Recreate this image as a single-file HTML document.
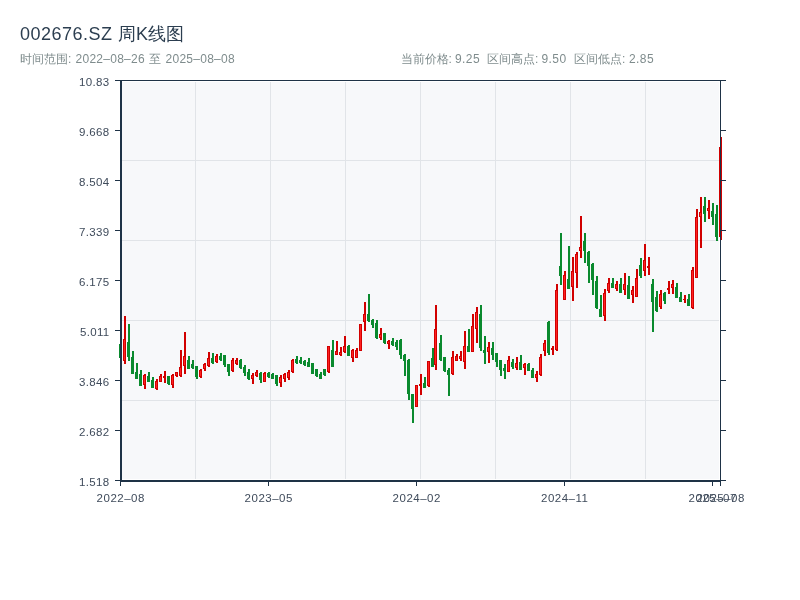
<!DOCTYPE html>
<html><head><meta charset="utf-8"><title>002676.SZ 周K线图</title>
<style>
html,body{margin:0;padding:0;background:#ffffff;}
body{width:800px;height:600px;overflow:hidden;position:relative;font-family:"Liberation Sans",sans-serif;}
svg{position:absolute;left:0;top:0;display:block;will-change:transform;}
text{font-family:"Liberation Sans",sans-serif;}
</style></head><body>
<svg width="800" height="600" viewBox="0 0 800 600">
<g font-size="18" fill="#2c3e50">
<text x="20" y="40" letter-spacing="0.49">002676.SZ</text>
<text x="118" y="40" letter-spacing="0">周K线图</text>
</g>
<g font-size="12" fill="#7f8c8d">
<text x="20" y="63" letter-spacing="0">时间范围:</text>
<text x="75.5" y="63" letter-spacing="0.27">2022–08–26</text>
<text x="149" y="63" letter-spacing="0">至</text>
<text x="165.5" y="63" letter-spacing="0.27">2025–08–08</text>
<text x="400.5" y="63" letter-spacing="0">当前价格:</text>
<text x="455" y="63" letter-spacing="0.4">9.25</text>
<text x="487" y="63" letter-spacing="0">区间高点:</text>
<text x="541.5" y="63" letter-spacing="0.4">9.50</text>
<text x="574" y="63" letter-spacing="0">区间低点:</text>
<text x="629" y="63" letter-spacing="0.4">2.85</text>
</g>
<rect x="122" y="82" width="597" height="397" fill="#f7f8fa"/>
<g stroke="#e1e4e8" stroke-width="1">
<line x1="195.5" y1="82" x2="195.5" y2="479"/>
<line x1="270.5" y1="82" x2="270.5" y2="479"/>
<line x1="345.5" y1="82" x2="345.5" y2="479"/>
<line x1="420.5" y1="82" x2="420.5" y2="479"/>
<line x1="495.5" y1="82" x2="495.5" y2="479"/>
<line x1="570.5" y1="82" x2="570.5" y2="479"/>
<line x1="645.5" y1="82" x2="645.5" y2="479"/>
<line x1="122" y1="160.5" x2="719" y2="160.5"/>
<line x1="122" y1="240.5" x2="719" y2="240.5"/>
<line x1="122" y1="320.5" x2="719" y2="320.5"/>
<line x1="122" y1="400.5" x2="719" y2="400.5"/>
</g>
<g shape-rendering="crispEdges">
<rect x="120.0" y="344.0" width="2" height="14.00" fill="#0a8a2e"/>
<rect x="119.0" y="344.0" width="3" height="13.50" fill="#0a8a2e"/>
<rect x="124.0" y="315.8" width="2" height="48.00" fill="#d10000"/>
<rect x="123.0" y="339.2" width="3" height="21.30" fill="#d10000"/>
<rect x="124.0" y="340.2" width="1" height="19.30" fill="#ff2121"/>
<rect x="128.0" y="323.75" width="2" height="37.05" fill="#0a8a2e"/>
<rect x="127.0" y="341.75" width="3" height="15.00" fill="#0a8a2e"/>
<rect x="132.0" y="350.75" width="2" height="23.25" fill="#0a8a2e"/>
<rect x="131.0" y="356.75" width="3" height="17.25" fill="#0a8a2e"/>
<rect x="136.0" y="362.75" width="2" height="16.05" fill="#0a8a2e"/>
<rect x="135.0" y="371.75" width="3" height="6.75" fill="#0a8a2e"/>
<rect x="140.0" y="369.8" width="2" height="15.90" fill="#0a8a2e"/>
<rect x="139.0" y="374.0" width="3" height="11.70" fill="#0a8a2e"/>
<rect x="144.0" y="373.7" width="2" height="15.30" fill="#d10000"/>
<rect x="143.0" y="374.75" width="3" height="9.75" fill="#d10000"/>
<rect x="144.0" y="375.75" width="1" height="7.75" fill="#ff2121"/>
<rect x="148.0" y="371.75" width="2" height="9.75" fill="#0a8a2e"/>
<rect x="147.0" y="376.0" width="3" height="5.50" fill="#0a8a2e"/>
<rect x="152.0" y="377.0" width="2" height="11.25" fill="#0a8a2e"/>
<rect x="151.0" y="380.0" width="3" height="8.25" fill="#0a8a2e"/>
<rect x="156.0" y="378.8" width="2" height="10.95" fill="#d10000"/>
<rect x="155.0" y="380.75" width="3" height="8.25" fill="#d10000"/>
<rect x="156.0" y="381.75" width="1" height="6.25" fill="#ff2121"/>
<rect x="160.0" y="374.0" width="2" height="7.50" fill="#d10000"/>
<rect x="159.0" y="375.5" width="3" height="6.00" fill="#d10000"/>
<rect x="160.0" y="376.5" width="1" height="4.00" fill="#ff2121"/>
<rect x="164.0" y="370.7" width="2" height="12.00" fill="#d10000"/>
<rect x="163.0" y="375.5" width="3" height="2.25" fill="#d10000"/>
<rect x="164.0" y="376.5" width="1" height="0.25" fill="#ff2121"/>
<rect x="168.0" y="375.8" width="2" height="8.70" fill="#0a8a2e"/>
<rect x="167.0" y="376.25" width="3" height="7.50" fill="#0a8a2e"/>
<rect x="172.0" y="373.7" width="2" height="14.10" fill="#d10000"/>
<rect x="171.0" y="374.75" width="3" height="9.75" fill="#d10000"/>
<rect x="172.0" y="375.75" width="1" height="7.75" fill="#ff2121"/>
<rect x="176.0" y="371.75" width="2" height="5.00" fill="#d10000"/>
<rect x="175.0" y="372.25" width="3" height="3.75" fill="#d10000"/>
<rect x="176.0" y="373.25" width="1" height="1.75" fill="#ff2121"/>
<rect x="180.0" y="349.75" width="2" height="27.00" fill="#d10000"/>
<rect x="179.0" y="367.0" width="3" height="9.00" fill="#d10000"/>
<rect x="180.0" y="368.0" width="1" height="7.00" fill="#ff2121"/>
<rect x="184.0" y="332.2" width="2" height="41.55" fill="#d10000"/>
<rect x="183.0" y="355.75" width="3" height="10.50" fill="#d10000"/>
<rect x="184.0" y="356.75" width="1" height="8.50" fill="#ff2121"/>
<rect x="188.0" y="355.75" width="2" height="12.75" fill="#0a8a2e"/>
<rect x="187.0" y="360.25" width="3" height="8.25" fill="#0a8a2e"/>
<rect x="192.0" y="360.0" width="2" height="8.50" fill="#0a8a2e"/>
<rect x="191.0" y="364.0" width="3" height="4.20" fill="#0a8a2e"/>
<rect x="196.0" y="365.8" width="2" height="12.90" fill="#0a8a2e"/>
<rect x="195.0" y="366.25" width="3" height="10.50" fill="#0a8a2e"/>
<rect x="200.0" y="369.0" width="2" height="8.80" fill="#d10000"/>
<rect x="199.0" y="370.0" width="3" height="6.75" fill="#d10000"/>
<rect x="200.0" y="371.0" width="1" height="4.75" fill="#ff2121"/>
<rect x="204.0" y="362.8" width="2" height="7.95" fill="#d10000"/>
<rect x="203.0" y="363.7" width="3" height="4.80" fill="#d10000"/>
<rect x="204.0" y="364.7" width="1" height="2.80" fill="#ff2121"/>
<rect x="208.0" y="352.0" width="2" height="14.70" fill="#d10000"/>
<rect x="207.0" y="358.0" width="3" height="8.25" fill="#d10000"/>
<rect x="208.0" y="359.0" width="1" height="6.25" fill="#ff2121"/>
<rect x="212.0" y="352.75" width="2" height="10.95" fill="#0a8a2e"/>
<rect x="211.0" y="358.0" width="3" height="5.25" fill="#0a8a2e"/>
<rect x="216.0" y="353.8" width="2" height="9.00" fill="#d10000"/>
<rect x="215.0" y="355.75" width="3" height="6.00" fill="#d10000"/>
<rect x="216.0" y="356.75" width="1" height="4.00" fill="#ff2121"/>
<rect x="220.0" y="352.75" width="2" height="7.95" fill="#0a8a2e"/>
<rect x="219.0" y="355.75" width="3" height="3.75" fill="#0a8a2e"/>
<rect x="224.0" y="354.7" width="2" height="12.30" fill="#0a8a2e"/>
<rect x="223.0" y="355.0" width="3" height="10.20" fill="#0a8a2e"/>
<rect x="228.0" y="364.0" width="2" height="12.00" fill="#0a8a2e"/>
<rect x="227.0" y="364.3" width="3" height="7.50" fill="#0a8a2e"/>
<rect x="232.0" y="357.7" width="2" height="14.10" fill="#d10000"/>
<rect x="231.0" y="359.5" width="3" height="11.50" fill="#d10000"/>
<rect x="232.0" y="360.5" width="1" height="9.50" fill="#ff2121"/>
<rect x="236.0" y="357.8" width="2" height="7.20" fill="#d10000"/>
<rect x="235.0" y="359.75" width="3" height="4.50" fill="#d10000"/>
<rect x="236.0" y="360.75" width="1" height="2.50" fill="#ff2121"/>
<rect x="240.0" y="359.0" width="2" height="9.75" fill="#0a8a2e"/>
<rect x="239.0" y="359.75" width="3" height="8.25" fill="#0a8a2e"/>
<rect x="244.0" y="364.7" width="2" height="11.10" fill="#0a8a2e"/>
<rect x="243.0" y="366.5" width="3" height="6.75" fill="#0a8a2e"/>
<rect x="248.0" y="368.75" width="2" height="10.95" fill="#0a8a2e"/>
<rect x="247.0" y="371.75" width="3" height="7.50" fill="#0a8a2e"/>
<rect x="252.0" y="372.5" width="2" height="11.25" fill="#d10000"/>
<rect x="251.0" y="374.75" width="3" height="4.50" fill="#d10000"/>
<rect x="252.0" y="375.75" width="1" height="2.50" fill="#ff2121"/>
<rect x="256.0" y="370.0" width="2" height="7.00" fill="#d10000"/>
<rect x="255.0" y="371.75" width="3" height="4.50" fill="#d10000"/>
<rect x="256.0" y="372.75" width="1" height="2.50" fill="#ff2121"/>
<rect x="260.0" y="371.75" width="2" height="10.95" fill="#0a8a2e"/>
<rect x="259.0" y="372.5" width="3" height="7.50" fill="#0a8a2e"/>
<rect x="264.0" y="371.75" width="2" height="9.75" fill="#d10000"/>
<rect x="263.0" y="372.5" width="3" height="9.00" fill="#d10000"/>
<rect x="264.0" y="373.5" width="1" height="7.00" fill="#ff2121"/>
<rect x="268.0" y="371.75" width="2" height="6.00" fill="#0a8a2e"/>
<rect x="267.0" y="372.5" width="3" height="4.50" fill="#0a8a2e"/>
<rect x="272.0" y="372.8" width="2" height="6.45" fill="#0a8a2e"/>
<rect x="271.0" y="374.0" width="3" height="5.25" fill="#0a8a2e"/>
<rect x="276.0" y="374.75" width="2" height="11.25" fill="#0a8a2e"/>
<rect x="275.0" y="375.2" width="3" height="8.55" fill="#0a8a2e"/>
<rect x="280.0" y="374.75" width="2" height="12.00" fill="#d10000"/>
<rect x="279.0" y="377.0" width="3" height="6.00" fill="#d10000"/>
<rect x="280.0" y="378.0" width="1" height="4.00" fill="#ff2121"/>
<rect x="284.0" y="372.8" width="2" height="8.70" fill="#d10000"/>
<rect x="283.0" y="373.7" width="3" height="5.55" fill="#d10000"/>
<rect x="284.0" y="374.7" width="1" height="3.55" fill="#ff2121"/>
<rect x="288.0" y="369.8" width="2" height="10.20" fill="#d10000"/>
<rect x="287.0" y="371.75" width="3" height="6.00" fill="#d10000"/>
<rect x="288.0" y="372.75" width="1" height="4.00" fill="#ff2121"/>
<rect x="292.0" y="358.75" width="2" height="14.25" fill="#d10000"/>
<rect x="291.0" y="359.5" width="3" height="12.75" fill="#d10000"/>
<rect x="292.0" y="360.5" width="1" height="10.75" fill="#ff2121"/>
<rect x="296.0" y="356.0" width="2" height="7.70" fill="#0a8a2e"/>
<rect x="295.0" y="358.75" width="3" height="3.75" fill="#0a8a2e"/>
<rect x="300.0" y="357.0" width="2" height="7.30" fill="#0a8a2e"/>
<rect x="299.0" y="359.5" width="3" height="3.75" fill="#0a8a2e"/>
<rect x="304.0" y="360.0" width="2" height="5.80" fill="#0a8a2e"/>
<rect x="303.0" y="361.0" width="3" height="3.75" fill="#0a8a2e"/>
<rect x="308.0" y="358.0" width="2" height="9.00" fill="#0a8a2e"/>
<rect x="307.0" y="361.75" width="3" height="4.95" fill="#0a8a2e"/>
<rect x="312.0" y="362.8" width="2" height="10.95" fill="#0a8a2e"/>
<rect x="311.0" y="363.25" width="3" height="10.50" fill="#0a8a2e"/>
<rect x="316.0" y="369.0" width="2" height="7.75" fill="#0a8a2e"/>
<rect x="315.0" y="369.25" width="3" height="6.75" fill="#0a8a2e"/>
<rect x="320.0" y="371.5" width="2" height="7.50" fill="#0a8a2e"/>
<rect x="319.0" y="373.75" width="3" height="4.95" fill="#0a8a2e"/>
<rect x="324.0" y="368.8" width="2" height="7.20" fill="#0a8a2e"/>
<rect x="323.0" y="369.25" width="3" height="6.00" fill="#0a8a2e"/>
<rect x="328.0" y="345.7" width="2" height="27.30" fill="#d10000"/>
<rect x="327.0" y="346.0" width="3" height="26.25" fill="#d10000"/>
<rect x="328.0" y="347.0" width="1" height="24.25" fill="#ff2121"/>
<rect x="332.0" y="340.0" width="2" height="27.00" fill="#0a8a2e"/>
<rect x="331.0" y="349.75" width="3" height="16.95" fill="#0a8a2e"/>
<rect x="336.0" y="340.75" width="2" height="14.55" fill="#d10000"/>
<rect x="335.0" y="350.5" width="3" height="4.50" fill="#d10000"/>
<rect x="336.0" y="351.5" width="1" height="2.50" fill="#ff2121"/>
<rect x="340.0" y="346.75" width="2" height="9.00" fill="#d10000"/>
<rect x="339.0" y="352.0" width="3" height="3.00" fill="#d10000"/>
<rect x="340.0" y="353.0" width="1" height="1.00" fill="#ff2121"/>
<rect x="344.0" y="335.8" width="2" height="16.95" fill="#d10000"/>
<rect x="343.0" y="346.0" width="3" height="6.00" fill="#d10000"/>
<rect x="344.0" y="347.0" width="1" height="4.00" fill="#ff2121"/>
<rect x="348.0" y="344.7" width="2" height="11.10" fill="#0a8a2e"/>
<rect x="347.0" y="345.75" width="3" height="9.75" fill="#0a8a2e"/>
<rect x="352.0" y="348.75" width="2" height="13.05" fill="#d10000"/>
<rect x="351.0" y="349.8" width="3" height="7.95" fill="#d10000"/>
<rect x="352.0" y="350.8" width="1" height="5.95" fill="#ff2121"/>
<rect x="356.0" y="348.0" width="2" height="10.20" fill="#d10000"/>
<rect x="355.0" y="349.8" width="3" height="7.95" fill="#d10000"/>
<rect x="356.0" y="350.8" width="1" height="5.95" fill="#ff2121"/>
<rect x="360.0" y="323.7" width="2" height="27.30" fill="#d10000"/>
<rect x="359.0" y="324.3" width="3" height="26.40" fill="#d10000"/>
<rect x="360.0" y="325.3" width="1" height="24.40" fill="#ff2121"/>
<rect x="364.0" y="301.8" width="2" height="28.95" fill="#d10000"/>
<rect x="363.0" y="314.25" width="3" height="7.50" fill="#d10000"/>
<rect x="364.0" y="315.25" width="1" height="5.50" fill="#ff2121"/>
<rect x="368.0" y="294.0" width="2" height="27.75" fill="#0a8a2e"/>
<rect x="367.0" y="314.25" width="3" height="6.75" fill="#0a8a2e"/>
<rect x="372.0" y="318.75" width="2" height="9.00" fill="#0a8a2e"/>
<rect x="371.0" y="320.25" width="3" height="4.50" fill="#0a8a2e"/>
<rect x="376.0" y="319.8" width="2" height="19.20" fill="#0a8a2e"/>
<rect x="375.0" y="323.25" width="3" height="15.00" fill="#0a8a2e"/>
<rect x="380.0" y="327.75" width="2" height="12.00" fill="#d10000"/>
<rect x="379.0" y="333.75" width="3" height="3.75" fill="#d10000"/>
<rect x="380.0" y="334.75" width="1" height="1.75" fill="#ff2121"/>
<rect x="384.0" y="332.7" width="2" height="11.10" fill="#0a8a2e"/>
<rect x="383.0" y="333.3" width="3" height="9.45" fill="#0a8a2e"/>
<rect x="388.0" y="339.75" width="2" height="9.00" fill="#d10000"/>
<rect x="387.0" y="341.25" width="3" height="3.00" fill="#d10000"/>
<rect x="388.0" y="342.25" width="1" height="1.00" fill="#ff2121"/>
<rect x="392.0" y="337.8" width="2" height="7.95" fill="#0a8a2e"/>
<rect x="391.0" y="341.25" width="3" height="3.75" fill="#0a8a2e"/>
<rect x="396.0" y="339.75" width="2" height="10.05" fill="#0a8a2e"/>
<rect x="395.0" y="342.0" width="3" height="4.50" fill="#0a8a2e"/>
<rect x="400.0" y="338.7" width="2" height="20.10" fill="#0a8a2e"/>
<rect x="399.0" y="339.75" width="3" height="15.00" fill="#0a8a2e"/>
<rect x="404.0" y="353.75" width="2" height="21.75" fill="#0a8a2e"/>
<rect x="403.0" y="354.5" width="3" height="6.75" fill="#0a8a2e"/>
<rect x="408.0" y="358.7" width="2" height="41.10" fill="#0a8a2e"/>
<rect x="407.0" y="359.75" width="3" height="33.75" fill="#0a8a2e"/>
<rect x="412.0" y="393.8" width="2" height="28.95" fill="#0a8a2e"/>
<rect x="411.0" y="394.25" width="3" height="14.25" fill="#0a8a2e"/>
<rect x="416.0" y="384.8" width="2" height="22.20" fill="#d10000"/>
<rect x="415.0" y="385.25" width="3" height="21.45" fill="#d10000"/>
<rect x="416.0" y="386.25" width="1" height="19.45" fill="#ff2121"/>
<rect x="420.0" y="373.7" width="2" height="21.00" fill="#d10000"/>
<rect x="419.0" y="383.75" width="3" height="2.25" fill="#d10000"/>
<rect x="420.0" y="384.75" width="1" height="0.25" fill="#ff2121"/>
<rect x="424.0" y="377.0" width="2" height="11.25" fill="#0a8a2e"/>
<rect x="423.0" y="383.0" width="3" height="4.50" fill="#0a8a2e"/>
<rect x="428.0" y="360.8" width="2" height="26.40" fill="#d10000"/>
<rect x="427.0" y="361.25" width="3" height="24.75" fill="#d10000"/>
<rect x="428.0" y="362.25" width="1" height="22.75" fill="#ff2121"/>
<rect x="432.0" y="347.75" width="2" height="19.05" fill="#0a8a2e"/>
<rect x="431.0" y="358.25" width="3" height="8.25" fill="#0a8a2e"/>
<rect x="435.0" y="305.0" width="2" height="64.80" fill="#d10000"/>
<rect x="434.0" y="329.3" width="3" height="35.70" fill="#d10000"/>
<rect x="435.0" y="330.3" width="1" height="33.70" fill="#ff2121"/>
<rect x="440.0" y="335.0" width="2" height="25.80" fill="#0a8a2e"/>
<rect x="439.0" y="342.8" width="3" height="16.95" fill="#0a8a2e"/>
<rect x="444.0" y="356.75" width="2" height="15.00" fill="#0a8a2e"/>
<rect x="443.0" y="357.2" width="3" height="13.80" fill="#0a8a2e"/>
<rect x="448.0" y="367.7" width="2" height="28.05" fill="#0a8a2e"/>
<rect x="447.0" y="370.25" width="3" height="4.50" fill="#0a8a2e"/>
<rect x="452.0" y="350.75" width="2" height="24.00" fill="#d10000"/>
<rect x="451.0" y="357.2" width="3" height="16.80" fill="#d10000"/>
<rect x="452.0" y="358.2" width="1" height="14.80" fill="#ff2121"/>
<rect x="456.0" y="353.75" width="2" height="6.75" fill="#d10000"/>
<rect x="455.0" y="356.0" width="3" height="4.50" fill="#d10000"/>
<rect x="456.0" y="357.0" width="1" height="2.50" fill="#ff2121"/>
<rect x="460.0" y="350.75" width="2" height="10.05" fill="#d10000"/>
<rect x="459.0" y="356.0" width="3" height="2.70" fill="#d10000"/>
<rect x="460.0" y="357.0" width="1" height="0.70" fill="#ff2121"/>
<rect x="464.0" y="330.5" width="2" height="38.25" fill="#d10000"/>
<rect x="463.0" y="346.25" width="3" height="15.75" fill="#d10000"/>
<rect x="464.0" y="347.25" width="1" height="13.75" fill="#ff2121"/>
<rect x="468.0" y="328.7" width="2" height="23.10" fill="#0a8a2e"/>
<rect x="467.0" y="346.0" width="3" height="5.50" fill="#0a8a2e"/>
<rect x="472.0" y="313.7" width="2" height="37.80" fill="#d10000"/>
<rect x="471.0" y="326.0" width="3" height="25.50" fill="#d10000"/>
<rect x="472.0" y="327.0" width="1" height="23.50" fill="#ff2121"/>
<rect x="476.0" y="306.8" width="2" height="35.95" fill="#d10000"/>
<rect x="475.0" y="312.2" width="3" height="16.30" fill="#d10000"/>
<rect x="476.0" y="313.2" width="1" height="14.30" fill="#ff2121"/>
<rect x="480.0" y="304.8" width="2" height="46.20" fill="#0a8a2e"/>
<rect x="479.0" y="313.5" width="3" height="34.50" fill="#0a8a2e"/>
<rect x="484.0" y="336.0" width="2" height="27.75" fill="#0a8a2e"/>
<rect x="483.0" y="350.0" width="3" height="2.70" fill="#0a8a2e"/>
<rect x="488.0" y="342.0" width="2" height="21.00" fill="#d10000"/>
<rect x="487.0" y="346.5" width="3" height="5.25" fill="#d10000"/>
<rect x="488.0" y="347.5" width="1" height="3.25" fill="#ff2121"/>
<rect x="492.0" y="342.0" width="2" height="18.00" fill="#0a8a2e"/>
<rect x="491.0" y="348.0" width="3" height="6.75" fill="#0a8a2e"/>
<rect x="496.0" y="352.8" width="2" height="13.95" fill="#0a8a2e"/>
<rect x="495.0" y="353.25" width="3" height="8.25" fill="#0a8a2e"/>
<rect x="500.0" y="360.0" width="2" height="15.75" fill="#0a8a2e"/>
<rect x="499.0" y="360.3" width="3" height="9.45" fill="#0a8a2e"/>
<rect x="504.0" y="364.2" width="2" height="14.55" fill="#0a8a2e"/>
<rect x="503.0" y="368.25" width="3" height="2.25" fill="#0a8a2e"/>
<rect x="508.0" y="355.8" width="2" height="16.20" fill="#d10000"/>
<rect x="507.0" y="360.0" width="3" height="11.70" fill="#d10000"/>
<rect x="508.0" y="361.0" width="1" height="9.70" fill="#ff2121"/>
<rect x="512.0" y="358.8" width="2" height="9.90" fill="#0a8a2e"/>
<rect x="511.0" y="361.5" width="3" height="5.25" fill="#0a8a2e"/>
<rect x="516.0" y="356.7" width="2" height="13.05" fill="#d10000"/>
<rect x="515.0" y="363.0" width="3" height="5.25" fill="#d10000"/>
<rect x="516.0" y="364.0" width="1" height="3.25" fill="#ff2121"/>
<rect x="520.0" y="355.2" width="2" height="14.55" fill="#0a8a2e"/>
<rect x="519.0" y="361.5" width="3" height="8.25" fill="#0a8a2e"/>
<rect x="524.0" y="363.0" width="2" height="11.70" fill="#d10000"/>
<rect x="523.0" y="363.75" width="3" height="4.50" fill="#d10000"/>
<rect x="524.0" y="364.75" width="1" height="2.50" fill="#ff2121"/>
<rect x="528.0" y="363.0" width="2" height="7.50" fill="#0a8a2e"/>
<rect x="527.0" y="363.75" width="3" height="6.75" fill="#0a8a2e"/>
<rect x="532.0" y="367.8" width="2" height="10.20" fill="#0a8a2e"/>
<rect x="531.0" y="369.75" width="3" height="8.25" fill="#0a8a2e"/>
<rect x="536.0" y="371.25" width="2" height="10.95" fill="#d10000"/>
<rect x="535.0" y="374.25" width="3" height="3.75" fill="#d10000"/>
<rect x="536.0" y="375.25" width="1" height="1.75" fill="#ff2121"/>
<rect x="540.0" y="354.3" width="2" height="21.45" fill="#d10000"/>
<rect x="539.0" y="357.0" width="3" height="18.00" fill="#d10000"/>
<rect x="540.0" y="358.0" width="1" height="16.00" fill="#ff2121"/>
<rect x="544.0" y="340.2" width="2" height="15.30" fill="#d10000"/>
<rect x="543.0" y="342.75" width="3" height="8.25" fill="#d10000"/>
<rect x="544.0" y="343.75" width="1" height="6.25" fill="#ff2121"/>
<rect x="548.0" y="321.0" width="2" height="33.75" fill="#0a8a2e"/>
<rect x="547.0" y="321.75" width="3" height="30.75" fill="#0a8a2e"/>
<rect x="552.0" y="346.2" width="2" height="8.55" fill="#d10000"/>
<rect x="551.0" y="348.0" width="3" height="2.25" fill="#d10000"/>
<rect x="552.0" y="349.0" width="1" height="0.25" fill="#ff2121"/>
<rect x="556.0" y="283.75" width="2" height="67.05" fill="#d10000"/>
<rect x="555.0" y="289.75" width="3" height="60.00" fill="#d10000"/>
<rect x="556.0" y="290.75" width="1" height="58.00" fill="#ff2121"/>
<rect x="560.0" y="232.75" width="2" height="51.75" fill="#0a8a2e"/>
<rect x="559.0" y="265.75" width="3" height="9.75" fill="#0a8a2e"/>
<rect x="564.0" y="271.0" width="2" height="28.50" fill="#d10000"/>
<rect x="563.0" y="274.75" width="3" height="24.75" fill="#d10000"/>
<rect x="564.0" y="275.75" width="1" height="22.75" fill="#ff2121"/>
<rect x="568.0" y="245.8" width="2" height="42.90" fill="#0a8a2e"/>
<rect x="567.0" y="279.0" width="3" height="9.50" fill="#0a8a2e"/>
<rect x="572.0" y="256.75" width="2" height="43.95" fill="#d10000"/>
<rect x="571.0" y="271.3" width="3" height="16.00" fill="#d10000"/>
<rect x="572.0" y="272.3" width="1" height="14.00" fill="#ff2121"/>
<rect x="576.0" y="251.8" width="2" height="35.70" fill="#d10000"/>
<rect x="575.0" y="253.75" width="3" height="19.50" fill="#d10000"/>
<rect x="576.0" y="254.75" width="1" height="17.50" fill="#ff2121"/>
<rect x="580.0" y="215.8" width="2" height="41.70" fill="#d10000"/>
<rect x="579.0" y="247.0" width="3" height="3.75" fill="#d10000"/>
<rect x="580.0" y="248.0" width="1" height="1.75" fill="#ff2121"/>
<rect x="584.0" y="232.75" width="2" height="30.00" fill="#0a8a2e"/>
<rect x="583.0" y="241.0" width="3" height="9.75" fill="#0a8a2e"/>
<rect x="588.0" y="251.2" width="2" height="31.50" fill="#0a8a2e"/>
<rect x="587.0" y="251.5" width="3" height="14.00" fill="#0a8a2e"/>
<rect x="592.0" y="263.2" width="2" height="32.00" fill="#0a8a2e"/>
<rect x="591.0" y="263.75" width="3" height="15.95" fill="#0a8a2e"/>
<rect x="596.0" y="276.25" width="2" height="32.25" fill="#0a8a2e"/>
<rect x="595.0" y="280.75" width="3" height="27.00" fill="#0a8a2e"/>
<rect x="600.0" y="295.0" width="2" height="21.75" fill="#0a8a2e"/>
<rect x="599.0" y="308.5" width="3" height="8.25" fill="#0a8a2e"/>
<rect x="604.0" y="289.0" width="2" height="31.80" fill="#d10000"/>
<rect x="603.0" y="292.75" width="3" height="23.25" fill="#d10000"/>
<rect x="604.0" y="293.75" width="1" height="21.25" fill="#ff2121"/>
<rect x="608.0" y="278.2" width="2" height="14.55" fill="#d10000"/>
<rect x="607.0" y="283.0" width="3" height="8.25" fill="#d10000"/>
<rect x="608.0" y="284.0" width="1" height="6.25" fill="#ff2121"/>
<rect x="612.0" y="278.25" width="2" height="9.45" fill="#0a8a2e"/>
<rect x="611.0" y="282.75" width="3" height="4.95" fill="#0a8a2e"/>
<rect x="616.0" y="280.8" width="2" height="9.90" fill="#d10000"/>
<rect x="615.0" y="283.5" width="3" height="5.25" fill="#d10000"/>
<rect x="616.0" y="284.5" width="1" height="3.25" fill="#ff2121"/>
<rect x="620.0" y="278.25" width="2" height="15.00" fill="#0a8a2e"/>
<rect x="619.0" y="284.25" width="3" height="9.00" fill="#0a8a2e"/>
<rect x="624.0" y="272.7" width="2" height="22.05" fill="#d10000"/>
<rect x="623.0" y="284.25" width="3" height="6.00" fill="#d10000"/>
<rect x="624.0" y="285.25" width="1" height="4.00" fill="#ff2121"/>
<rect x="628.0" y="276.0" width="2" height="22.50" fill="#0a8a2e"/>
<rect x="627.0" y="285.0" width="3" height="13.50" fill="#0a8a2e"/>
<rect x="632.0" y="286.2" width="2" height="16.50" fill="#d10000"/>
<rect x="631.0" y="290.25" width="3" height="4.50" fill="#d10000"/>
<rect x="632.0" y="291.25" width="1" height="2.50" fill="#ff2121"/>
<rect x="636.0" y="268.8" width="2" height="27.90" fill="#d10000"/>
<rect x="635.0" y="278.25" width="3" height="18.45" fill="#d10000"/>
<rect x="636.0" y="279.25" width="1" height="16.45" fill="#ff2121"/>
<rect x="640.0" y="257.7" width="2" height="20.20" fill="#0a8a2e"/>
<rect x="639.0" y="265.2" width="3" height="10.80" fill="#0a8a2e"/>
<rect x="644.0" y="243.75" width="2" height="32.25" fill="#d10000"/>
<rect x="643.0" y="260.25" width="3" height="10.50" fill="#d10000"/>
<rect x="644.0" y="261.25" width="1" height="8.50" fill="#ff2121"/>
<rect x="648.0" y="256.8" width="2" height="18.45" fill="#d10000"/>
<rect x="647.0" y="266.25" width="3" height="1.50" fill="#d10000"/>
<rect x="652.0" y="279.0" width="2" height="52.50" fill="#0a8a2e"/>
<rect x="651.0" y="283.5" width="3" height="18.75" fill="#0a8a2e"/>
<rect x="656.0" y="291.0" width="2" height="21.00" fill="#0a8a2e"/>
<rect x="655.0" y="297.0" width="3" height="14.25" fill="#0a8a2e"/>
<rect x="660.0" y="289.8" width="2" height="19.20" fill="#d10000"/>
<rect x="659.0" y="294.0" width="3" height="12.75" fill="#d10000"/>
<rect x="660.0" y="295.0" width="1" height="10.75" fill="#ff2121"/>
<rect x="664.0" y="292.2" width="2" height="11.55" fill="#0a8a2e"/>
<rect x="663.0" y="292.5" width="3" height="8.25" fill="#0a8a2e"/>
<rect x="668.0" y="280.8" width="2" height="12.90" fill="#d10000"/>
<rect x="667.0" y="288.0" width="3" height="2.25" fill="#d10000"/>
<rect x="668.0" y="289.0" width="1" height="0.25" fill="#ff2121"/>
<rect x="672.0" y="279.75" width="2" height="13.95" fill="#d10000"/>
<rect x="671.0" y="284.25" width="3" height="3.75" fill="#d10000"/>
<rect x="672.0" y="285.25" width="1" height="1.75" fill="#ff2121"/>
<rect x="676.0" y="282.75" width="2" height="15.00" fill="#0a8a2e"/>
<rect x="675.0" y="286.5" width="3" height="11.25" fill="#0a8a2e"/>
<rect x="680.0" y="291.75" width="2" height="9.75" fill="#0a8a2e"/>
<rect x="679.0" y="297.0" width="3" height="4.50" fill="#0a8a2e"/>
<rect x="684.0" y="294.75" width="2" height="7.95" fill="#d10000"/>
<rect x="683.0" y="298.5" width="3" height="1.50" fill="#d10000"/>
<rect x="688.0" y="293.7" width="2" height="12.30" fill="#0a8a2e"/>
<rect x="687.0" y="299.25" width="3" height="6.45" fill="#0a8a2e"/>
<rect x="692.0" y="266.75" width="2" height="41.95" fill="#d10000"/>
<rect x="691.0" y="270.2" width="3" height="37.30" fill="#d10000"/>
<rect x="692.0" y="271.2" width="1" height="35.30" fill="#ff2121"/>
<rect x="696.0" y="209.0" width="2" height="69.25" fill="#d10000"/>
<rect x="695.0" y="217.25" width="3" height="61.00" fill="#d10000"/>
<rect x="696.0" y="218.25" width="1" height="59.00" fill="#ff2121"/>
<rect x="700.0" y="197.0" width="2" height="51.00" fill="#d10000"/>
<rect x="699.0" y="212.0" width="3" height="5.25" fill="#d10000"/>
<rect x="700.0" y="213.0" width="1" height="3.25" fill="#ff2121"/>
<rect x="704.0" y="197.0" width="2" height="24.75" fill="#0a8a2e"/>
<rect x="703.0" y="206.0" width="3" height="7.50" fill="#0a8a2e"/>
<rect x="708.0" y="200.0" width="2" height="18.75" fill="#d10000"/>
<rect x="707.0" y="208.25" width="3" height="3.00" fill="#d10000"/>
<rect x="708.0" y="209.25" width="1" height="1.00" fill="#ff2121"/>
<rect x="712.0" y="203.0" width="2" height="21.75" fill="#0a8a2e"/>
<rect x="711.0" y="210.5" width="3" height="6.00" fill="#0a8a2e"/>
<rect x="716.0" y="204.5" width="2" height="36.30" fill="#0a8a2e"/>
<rect x="715.0" y="214.25" width="3" height="22.50" fill="#0a8a2e"/>
<rect x="720.0" y="137.0" width="2" height="102.50" fill="#d10000"/>
<rect x="719.0" y="147.0" width="3" height="89.50" fill="#d10000"/>
<rect x="720.0" y="148.0" width="1" height="87.50" fill="#ff2121"/>
</g>
<g fill="#1e3246" shape-rendering="crispEdges">
<rect x="120" y="80" width="2" height="402"/>
<rect x="120" y="480" width="601" height="2"/>
<rect x="121" y="80" width="605" height="1"/>
<rect x="720" y="80" width="1" height="401"/>
</g>
<g stroke="#1e3246" stroke-width="1">
<line x1="115" y1="80.5" x2="121" y2="80.5"/>
<line x1="721" y1="80.5" x2="726" y2="80.5"/>
<line x1="115" y1="130.5" x2="121" y2="130.5"/>
<line x1="721" y1="130.5" x2="726" y2="130.5"/>
<line x1="115" y1="180.5" x2="121" y2="180.5"/>
<line x1="721" y1="180.5" x2="726" y2="180.5"/>
<line x1="115" y1="230.5" x2="121" y2="230.5"/>
<line x1="721" y1="230.5" x2="726" y2="230.5"/>
<line x1="115" y1="280.5" x2="121" y2="280.5"/>
<line x1="721" y1="280.5" x2="726" y2="280.5"/>
<line x1="115" y1="330.5" x2="121" y2="330.5"/>
<line x1="721" y1="330.5" x2="726" y2="330.5"/>
<line x1="115" y1="380.5" x2="121" y2="380.5"/>
<line x1="721" y1="380.5" x2="726" y2="380.5"/>
<line x1="115" y1="430.5" x2="121" y2="430.5"/>
<line x1="721" y1="430.5" x2="726" y2="430.5"/>
<line x1="115" y1="480.5" x2="121" y2="480.5"/>
<line x1="721" y1="480.5" x2="726" y2="480.5"/>
<line x1="120.5" y1="481" x2="120.5" y2="486"/>
<line x1="268.5" y1="481" x2="268.5" y2="486"/>
<line x1="416.5" y1="481" x2="416.5" y2="486"/>
<line x1="564.5" y1="481" x2="564.5" y2="486"/>
<line x1="712.5" y1="481" x2="712.5" y2="486"/>
<line x1="720.5" y1="481" x2="720.5" y2="486"/>
</g>
<g font-size="11.5" fill="#3f4b5b" letter-spacing="0.35">
<text x="109.6" y="85.9" text-anchor="end">10.83</text>
<text x="109.6" y="135.9" text-anchor="end">9.668</text>
<text x="109.6" y="185.9" text-anchor="end">8.504</text>
<text x="109.6" y="235.9" text-anchor="end">7.339</text>
<text x="109.6" y="285.9" text-anchor="end">6.175</text>
<text x="109.6" y="335.9" text-anchor="end">5.011</text>
<text x="109.6" y="385.9" text-anchor="end">3.846</text>
<text x="109.6" y="435.9" text-anchor="end">2.682</text>
<text x="109.6" y="485.9" text-anchor="end">1.518</text>
</g>
<g font-size="11.5" fill="#3f4b5b" letter-spacing="0.5">
<text x="120.75" y="502" text-anchor="middle">2022–08</text>
<text x="268.75" y="502" text-anchor="middle">2023–05</text>
<text x="416.75" y="502" text-anchor="middle">2024–02</text>
<text x="564.75" y="502" text-anchor="middle">2024–11</text>
<text x="712.75" y="502" text-anchor="middle">2025–07</text>
<text x="720.75" y="502" text-anchor="middle">2025–08</text>
</g>
</svg>
</body></html>
